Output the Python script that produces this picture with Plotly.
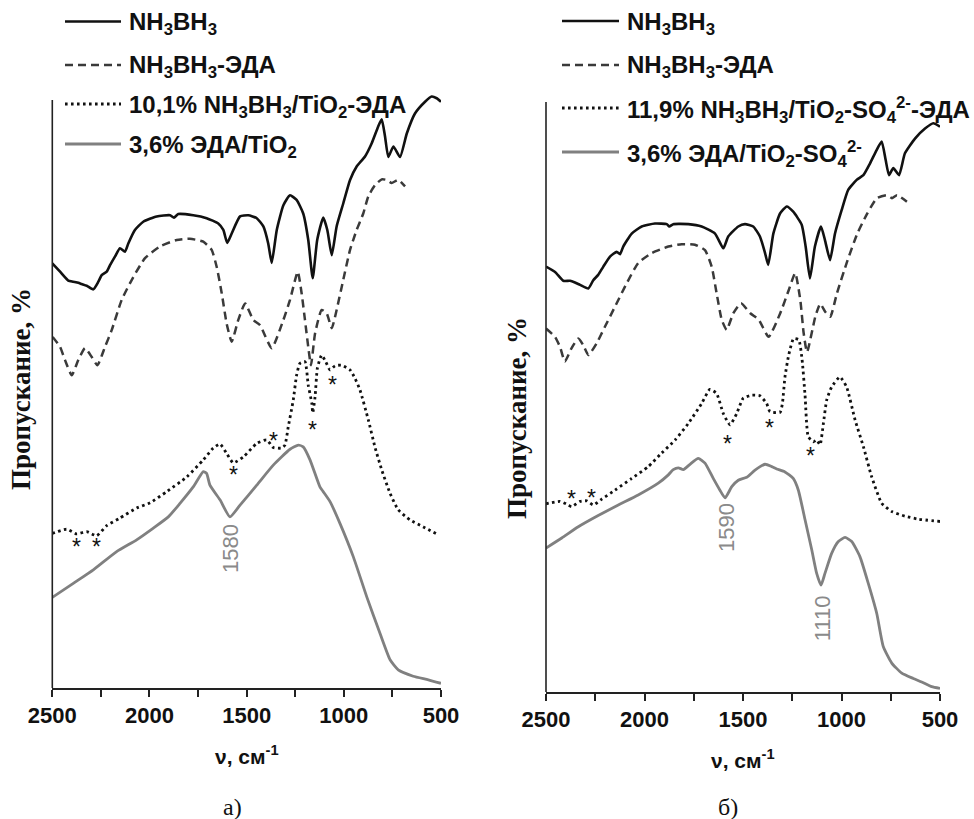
import plotly.graph_objects as go

# ---------------- data (wavenumber, cm-1 ; transmittance, arb. %) ----------------
# Panel a
a_nh_wn = [2500,2460,2418,2392,2366,2349,2323,2289,2263,2246,2220,2203,2177,2152,2126,2109,2075,2032,1963,1894,
           1874,1852,1775,1706,1646,1620,1600,1577,1534,1492,1448,1414,1389,1371,1345,1311,1277,1243,1209,1183,
           1160,1137,1106,1085,1062,1037,1003,968,934,891,857,823,805,788,771,745,711,676,634,582,548,522,500]
a_nh_t = [72.2,70.8,69.3,69.1,68.9,68.7,68.4,67.8,69.1,70.2,70.8,71.9,73.4,74.8,74.2,75.6,77.9,79.3,80.2,80.4,
          80.0,80.6,80.4,79.9,79.0,77.9,75.7,77.3,80.2,80.4,79.9,78.5,75.6,72.3,77.9,82.1,83.8,83.0,80.7,76.2,
          69.7,76.2,80.0,77.9,73.6,78.5,82.4,86.4,88.7,90.4,92.6,95.5,96.7,93.8,90.3,92.1,90.3,94.3,97.7,99.7,100.6,100.3,99.7]

a_eda_wn = [2498,2460,2435,2400,2366,2332,2297,2268,2229,2194,2143,2083,2023,1946,1860,1792,1723,1680,1654,1628,
            1603,1577,1543,1508,1466,1431,1371,1311,1277,1237,1217,1200,1183,1169,1148,1114,1088,1062,1037,1003,
            968,934,900,874,840,805,779,754,720,685]
a_eda_t = [59.7,58.0,55.8,53.2,55.8,57.8,56.3,54.9,58.0,60.9,66.0,69.9,73.1,75.1,76.2,76.4,75.9,74.5,71.6,67.1,
           62.0,58.9,62.6,65.4,62.6,61.7,57.8,62.6,66.0,70.8,67.1,62.6,58.0,54.9,60.3,64.3,63.7,61.2,64.3,69.4,
           74.5,77.9,80.7,83.6,85.5,86.5,86.4,85.9,86.4,85.3]

a_ti_wn = [2500,2426,2374,2323,2272,2220,2152,2066,1997,1911,1808,1723,1672,1637,1603,1569,1517,1448,1397,1363,
           1320,1303,1286,1260,1243,1226,1200,1183,1165,1160,1148,1136,1114,1092,1071,1045,1011,968,943,917,
           874,840,805,762,720,660,591,522]
a_ti_t = [26.3,27.0,26.2,26.6,25.9,27.6,28.9,30.6,31.5,33.4,35.9,38.8,40.8,41.5,39.9,38.3,39.3,41.6,42.2,40.9,
          40.8,41.3,44.4,49.0,53.2,55.2,55.5,51.5,48.5,46.8,49.5,54.4,56.6,55.4,54.1,54.8,54.9,54.1,52.7,50.7,
          45.6,41.0,37.1,33.1,30.3,28.6,27.4,26.2]

a_g_wn = [2500,2392,2289,2169,2066,1980,1903,1843,1775,1723,1706,1689,1637,1586,1534,1448,1363,1277,1234,1209,
          1174,1123,1106,1071,1020,951,882,814,762,720,643,565,500]
a_g_t = [15.4,17.8,20.1,23.2,25.2,27.2,29.1,31.4,34.2,36.8,36.5,34.5,32.0,29.1,31.1,34.5,37.9,40.6,41.3,41.0,
         38.8,34.2,33.4,31.7,28.0,22.3,15.5,9.3,4.8,3.1,2.0,1.4,0.8]

a_star_wn = [2374, 2272, 1569, 1363, 1160, 1057]
a_star_t = [24.9, 24.9, 37.0, 42.9, 44.8, 52.3]
a_lab_text = ["1580"]
a_lab_wn = [1586]
a_lab_t = [23.8]

# Panel b
b_nh_wn = [2500,2454,2412,2378,2353,2327,2285,2260,2235,2209,2175,2141,2124,2108,2065,2014,1947,1887,1874,1854,
           1778,1710,1642,1600,1575,1524,1490,1448,1414,1388,1372,1346,1312,1278,1245,1202,1182,1160,1135,1104,
           1084,1058,1033,999,966,923,889,855,821,796,776,759,737,708,678,627,576,534,500]
b_nh_t = [72.1,71.2,69.7,69.7,69.4,69.0,68.4,69.8,70.7,72.1,73.8,74.6,74.2,75.5,77.7,78.9,79.4,79.3,78.9,79.3,
          79.3,78.9,77.7,75.2,77.2,78.9,79.3,78.9,77.2,74.4,72.4,77.7,81.1,82.3,81.4,79.2,75.5,70.1,75.5,78.9,
          76.6,73.2,77.7,81.7,85.1,86.8,87.6,89.6,91.9,93.3,90.2,87.6,88.8,87.6,91.3,93.8,95.5,96.4,95.8]

b_eda_wn = [2500,2454,2429,2404,2370,2336,2311,2285,2243,2201,2150,2090,2032,1963,1879,1811,1744,1693,1659,1634,
            1608,1583,1549,1510,1463,1420,1370,1311,1268,1235,1209,1192,1175,1133,1108,1082,1057,1023,972,921,
            871,820,769,744,718,668]
b_eda_t = [61.6,60.2,58.5,56.0,58.3,59.9,58.8,57.1,59.1,61.9,65.3,69.3,72.7,74.4,75.5,75.9,75.8,74.9,72.1,67.6,
           63.1,61.4,64.2,65.9,64.2,63.1,60.2,64.2,68.1,71.0,66.4,60.8,57.6,63.6,65.8,64.4,63.6,67.6,72.9,77.6,
           81.0,83.7,84.2,83.7,84.2,83.1]

b_ti_wn = [2500,2429,2387,2370,2327,2293,2260,2217,2150,2065,1981,1913,1845,1778,1710,1668,1634,1600,1566,1532,
           1499,1456,1414,1380,1363,1312,1300,1287,1268,1243,1217,1200,1185,1169,1143,1126,1109,1092,1075,1050,
           1008,974,931,889,847,796,745,678,610,500]
b_ti_t = [31.9,32.3,31.7,31.4,32.3,32.4,31.7,32.7,34.2,36.2,38.2,40.5,42.7,45.5,48.9,51.3,50.6,47.2,45.3,47.2,
          49.8,50.3,50.2,48.9,47.5,47.4,48.9,53.4,57.1,59.9,59.7,56.3,50.3,43.3,42.4,42.7,41.9,45.5,49.5,51.7,
          53.4,51.7,46.1,41.6,36.5,32.0,30.6,29.8,29.3,28.9]

b_g_wn = [2500,2420,2336,2235,2133,2032,1930,1879,1854,1828,1803,1769,1727,1693,1651,1617,1591,1557,1524,1481,
          1439,1388,1354,1329,1287,1245,1219,1185,1151,1126,1104,1084,1050,1016,982,948,906,864,821,788,
          745,694,636,593,542,500]
b_g_t = [24.4,26.1,28.0,29.9,31.7,33.4,35.4,36.8,37.7,38.0,37.7,38.6,39.6,38.8,36.2,34.2,32.9,34.8,35.9,36.4,
         37.6,38.6,38.2,37.8,37.3,36.2,34.2,29.2,24.1,20.1,18.1,20.1,23.5,25.5,26.2,25.5,22.9,18.4,13.3,7.7,
         4.9,3.2,2.3,1.7,0.9,0.6]

b_star_wn = [2373, 2268, 1578, 1363, 1155]
b_star_t = [33.5, 33.7, 42.8, 45.6, 40.8]
b_lab_text = ["1590", "1110"]
b_lab_wn = [1581, 1099]
b_lab_t = [27.8, 12.5]

x_ticks = [2500, 2000, 1500, 1000, 500]
x_minor = [2250, 1750, 1250, 750]

legend_a = ["NH<sub>3</sub>BH<sub>3</sub>", "NH<sub>3</sub>BH<sub>3</sub>-ЭДА",
            "10,1% NH<sub>3</sub>BH<sub>3</sub>/TiO<sub>2</sub>-ЭДА", "3,6% ЭДА/TiO<sub>2</sub>"]
legend_b = ["NH<sub>3</sub>BH<sub>3</sub>", "NH<sub>3</sub>BH<sub>3</sub>-ЭДА",
            "11,9% NH<sub>3</sub>BH<sub>3</sub>/TiO<sub>2</sub>-SO<sub>4</sub><sup>2-</sup>-ЭДА",
            "3,6% ЭДА/TiO<sub>2</sub>-SO<sub>4</sub><sup>2-</sup>"]
y_title = "Пропускание, %"
x_title = "ν, см<sup>-1</sup>"
panel_labels = ["а)", "б)"]

# ---------------- styling ----------------
W, H = 974, 819
SANS = "Liberation Sans, Arial, sans-serif"
SERIF = "Liberation Serif, Times New Roman, serif"
AX = "#222222"
styles = [
    dict(color="#111111", width=2.6, dash="solid"),
    dict(color="#3a3a3a", width=2.5, dash="8px,5px"),
    dict(color="#111111", width=2.8, dash="2.6px,3.4px"),
    dict(color="#808080", width=2.8, dash="solid"),
]

def px(x):
    return x / W

def py(y):
    return 1 - y / H

fig = go.Figure()

panels = [
    dict(xa="x", ya="y", series=[(a_nh_wn, a_nh_t), (a_eda_wn, a_eda_t), (a_ti_wn, a_ti_t), (a_g_wn, a_g_t)],
         names=legend_a, star=(a_star_wn, a_star_t), lab=(a_lab_text, a_lab_wn, a_lab_t)),
    dict(xa="x2", ya="y2", series=[(b_nh_wn, b_nh_t), (b_eda_wn, b_eda_t), (b_ti_wn, b_ti_t), (b_g_wn, b_g_t)],
         names=legend_b, star=(b_star_wn, b_star_t), lab=(b_lab_text, b_lab_wn, b_lab_t)),
]

annotations = []
shapes = []

for p in panels:
    for (wn, t), st, nm in zip(p["series"], styles, p["names"]):
        fig.add_trace(go.Scatter(x=wn, y=t, mode="lines", name=nm, xaxis=p["xa"], yaxis=p["ya"],
                                 line=dict(color=st["color"], width=st["width"], dash=st["dash"],
                                           shape="spline", smoothing=0.5),
                                 showlegend=False, hoverinfo="skip"))
    for w, t in zip(*p["star"]):
        annotations.append(dict(x=w, y=t, xref=p["xa"], yref=p["ya"], text="*", showarrow=False,
                                xanchor="center", yanchor="middle",
                                font=dict(family=SANS, size=23, color="#111111"), yshift=-5))
    for txt, w, t in zip(*p["lab"]):
        annotations.append(dict(x=w, y=t, xref=p["xa"], yref=p["ya"], text=txt, showarrow=False,
                                xanchor="center", yanchor="middle",
                                textangle=-90, font=dict(family=SANS, size=22, color="#8a8a8a")))
    # y axis line (left spine)
    shapes.append(dict(type="line", xref=p["xa"] + " domain", yref=p["ya"], x0=0, x1=0, y0=0, y1=100,
                       line=dict(color=AX, width=1.6)))

# manual legends
leg_a_rows = [21.5, 65, 104, 144]
leg_b_rows = [21, 65, 108, 152]
for rows, (lx0, lx1, tx), names in [(leg_a_rows, (65, 121, 127), legend_a),
                                    (leg_b_rows, (562, 619, 625), legend_b)]:
    for yy, st, nm in zip(rows, styles, names):
        shapes.append(dict(type="line", xref="paper", yref="paper", x0=px(lx0), x1=px(lx1), y0=py(yy), y1=py(yy),
                           line=dict(color=st["color"], width=st["width"], dash=st["dash"])))
        annotations.append(dict(x=px(tx), y=py(yy), xref="paper", yref="paper", text=nm, showarrow=False,
                                xanchor="left", yanchor="middle", yshift=-2,
                                font=dict(family=SANS, size=24, color="#111111", weight="bold")))

# axis titles, y titles, panel labels
for cx, ty, ycx, ycy, lx, ly, lab in [(246.5, 755, 21, 389, 232, 807, panel_labels[0]),
                                      (743, 759, 517, 418, 728, 807, panel_labels[1])]:
    annotations.append(dict(x=px(cx), y=py(ty), xref="paper", yref="paper", text=x_title, showarrow=False,
                            xanchor="center", yanchor="middle",
                            font=dict(family=SANS, size=21, color="#111111", weight="bold")))
    annotations.append(dict(x=px(ycx), y=py(ycy), xref="paper", yref="paper", text=y_title, showarrow=False,
                            xanchor="center", yanchor="middle",
                            textangle=-90, font=dict(family=SERIF, size=27, color="#111111", weight="bold")))
    annotations.append(dict(x=px(lx), y=py(ly), xref="paper", yref="paper", text=lab, showarrow=False,
                            xanchor="center", yanchor="middle",
                            font=dict(family=SERIF, size=24, color="#111111")))

xcommon = dict(range=[2500, 500], showline=True, linecolor=AX, linewidth=1.6, mirror=False,
               ticks="outside", ticklen=7, tickwidth=1.6, tickcolor=AX, tickvals=x_ticks,
               ticktext=[str(v) for v in x_ticks], automargin=False,
               tickfont=dict(family=SANS, size=22, color="#111111", weight="bold"),
               minor=dict(tickvals=x_minor, ticks="outside", ticklen=7, tickwidth=1.6, tickcolor=AX),
               showgrid=False, zeroline=False, fixedrange=True)
ycommon = dict(visible=False, showgrid=False, zeroline=False, fixedrange=True, automargin=False)

fig.update_layout(
    width=W, height=H, autosize=False,
    margin=dict(l=0, r=0, t=0, b=0, pad=0, autoexpand=False),
    paper_bgcolor="white", plot_bgcolor="white",
    showlegend=False,
    xaxis=dict(domain=[px(52.3), px(441)], anchor="y", **xcommon),
    yaxis=dict(domain=[py(688), 1], range=[0, 688 / 5.88], **ycommon),
    xaxis2=dict(domain=[px(546), px(940)], anchor="y2", **xcommon),
    yaxis2=dict(domain=[py(692), 1], range=[0, 692 / 5.9], **ycommon),
    annotations=annotations,
    shapes=shapes,
)

fig.write_html("out.html")
